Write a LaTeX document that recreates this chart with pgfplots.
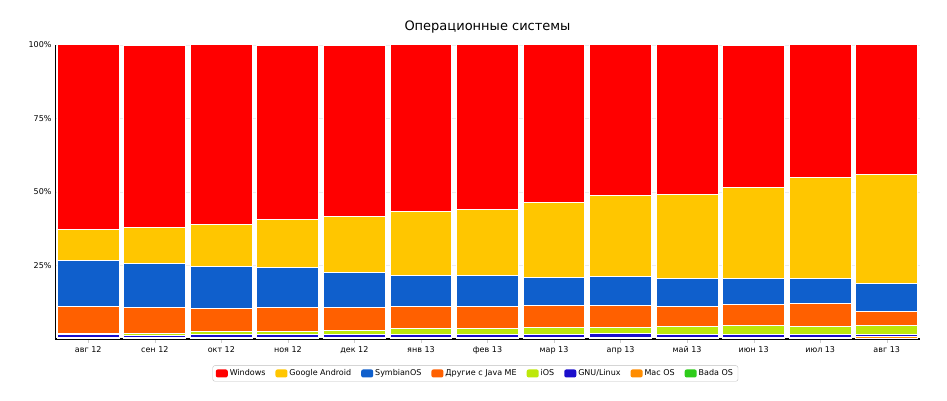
\documentclass[border=0pt]{standalone}
\usepackage{pgfplots}
\pgfplotsset{compat=1.18}
\usepackage{fontspec}
\setmainfont{DejaVu Sans}
\definecolor{cwin}{HTML}{FF0000}
\definecolor{cand}{HTML}{FFC600}
\definecolor{csym}{HTML}{0F5FCC}
\definecolor{cjava}{HTML}{FF6000}
\definecolor{cios}{HTML}{BDE80A}
\definecolor{clin}{HTML}{1B0ECC}
\definecolor{cmac}{HTML}{FF8C00}
\definecolor{cbada}{HTML}{2ECC1A}
\begin{document}
\begin{tikzpicture}
\path[use as bounding box] (0pt,0pt) rectangle (947pt,401pt);
\begin{axis}[at={(55pt,62pt)},anchor=south west,scale only axis,width=865pt,height=294pt,
 ybar stacked, bar width=0.93, xmin=-0.5, xmax=12.5, ymin=0, ymax=100,
 xtick={0,...,12}, xticklabels={авг 12,сен 12,окт 12,ноя 12,дек 12,янв 13,фев 13,мар 13,апр 13,май 13,июн 13,июл 13,авг 13},
 ytick={25,50,75,100}, yticklabels={25\%,50\%,75\%,100\%},
 ymajorgrids, grid style={gray!15},
 axis x line*=bottom, axis y line*=left,
 x axis line style={very thick,-}, y axis line style={-},
 tick label style={font=\fontsize{8}{9}\selectfont},
 xtick style={draw=gray!40}, ytick style={draw=none}, major tick length=4pt,
 xtick align=outside,
 title={\fontsize{13}{15}\selectfont Операционные системы}, title style={yshift=2pt},
 every axis plot/.append style={draw=white, line width=1pt},
 legend style={at={(0.486,-0.09)},anchor=north,legend columns=8,font=\fontsize{8}{9}\selectfont,draw=gray!50,rounded corners=2pt,/tikz/every even column/.append style={column sep=8pt}},
 legend image code/.code={\fill[#1,draw=none] (0pt,-4pt) rectangle (12pt,4pt);},
 reverse legend,
]
\addplot[fill=cbada] coordinates {(0,0.1)(1,0.1)(2,0.1)(3,0.1)(4,0.1)(5,0.1)(6,0.1)(7,0.1)(8,0.1)(9,0.1)(10,0.1)(11,0.1)(12,0.1)};
\addplot[fill=cmac] coordinates {(0,0.3)(1,0.3)(2,0.3)(3,0.3)(4,0.3)(5,0.3)(6,0.3)(7,0.3)(8,0.3)(9,0.3)(10,0.3)(11,0.3)(12,0.6)};
\addplot[fill=clin] coordinates {(0,1.2)(1,0.85)(2,1.2)(3,1.2)(4,1.2)(5,1.2)(6,1.2)(7,1.2)(8,1.55)(9,1.2)(10,1.2)(11,1.2)(12,0.9)};
\addplot[fill=cios] coordinates {(0,0.4)(1,0.7)(2,0.8)(3,1.0)(4,1.35)(5,1.9)(6,1.9)(7,2.4)(8,2.0)(9,2.7)(10,3.05)(11,2.7)(12,3.06)};
\addplot[fill=cjava] coordinates {(0,9.0)(1,8.7)(2,7.9)(3,8.05)(4,7.7)(5,7.5)(6,7.5)(7,7.4)(8,7.4)(9,6.7)(10,7.0)(11,7.8)(12,4.76)};
\addplot[fill=csym] coordinates {(0,15.6)(1,14.9)(2,14.3)(3,13.5)(4,11.9)(5,10.5)(6,10.5)(7,9.6)(8,9.9)(9,9.5)(10,8.8)(11,8.4)(12,9.4)};
\addplot[fill=cand] coordinates {(0,10.8)(1,12.5)(2,14.5)(3,16.6)(4,19.2)(5,21.7)(6,22.7)(7,25.4)(8,27.4)(9,28.8)(10,31.2)(11,34.3)(12,37.3)};
\addplot[fill=cwin] coordinates {(0,62.6)(1,61.9)(2,60.9)(3,59.2)(4,58.2)(5,56.8)(6,55.8)(7,53.7)(8,51.4)(9,51.0)(10,48.3)(11,45.2)(12,43.9)};
\legend{Bada OS,Mac OS,GNU/Linux,iOS,Другие с Java ME,SymbianOS,Google Android,Windows}
\end{axis}
\end{tikzpicture}
\end{document}
